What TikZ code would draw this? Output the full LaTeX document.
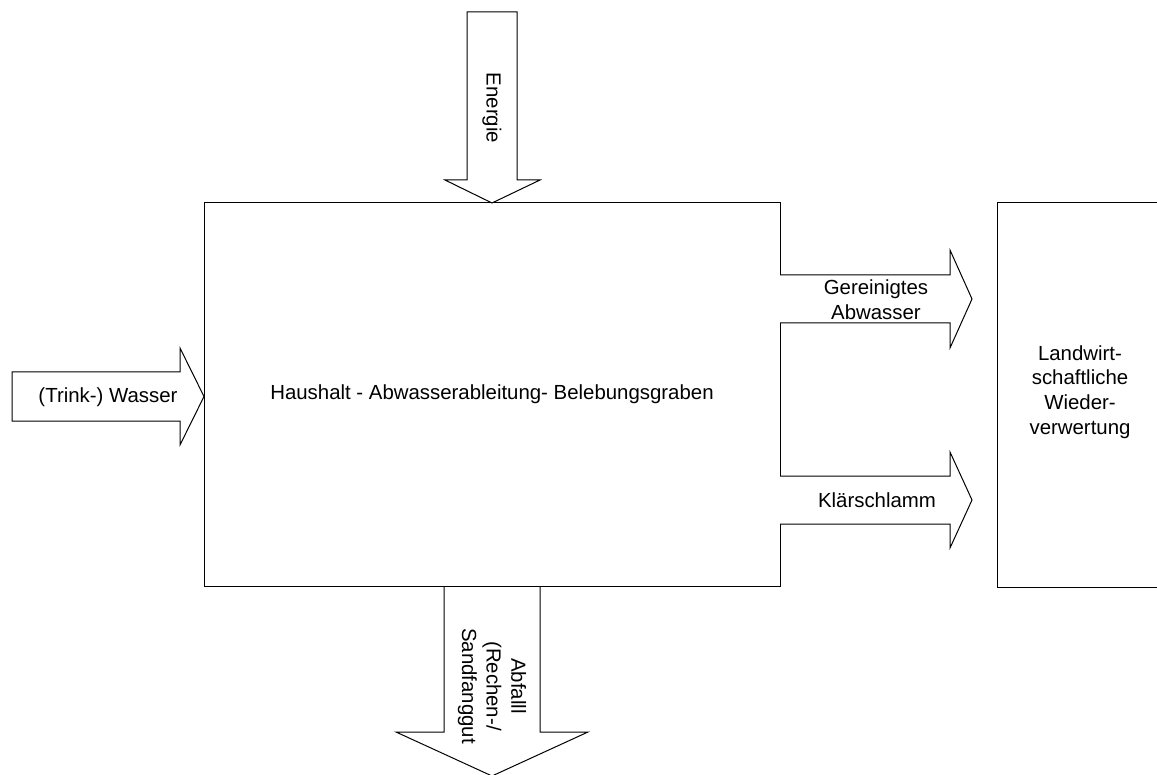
\documentclass[tikz,border=0pt]{standalone}
\usepackage{fontspec}
\setmainfont{Liberation Sans}
\usetikzlibrary{positioning}

\tikzset{
  box/.style={draw, line width=0.5pt},
  flow/.style={draw, fill=white, line width=0.5pt, line join=miter},
  lbl/.style={font=\fontsize{10.2}{12.3}\selectfont, align=center, inner sep=0pt}
}

\begin{document}
\begin{tikzpicture}[x=0.5pt, y=-0.5pt]
        \useasboundingbox (0,0) rectangle (1157,775);
        \clip (0,0) rectangle (1157,775);
        % Draw main box
        \node[box, minimum width=288pt, minimum height=191.5pt, inner sep=0pt] (haus) at (492,394.5) {};
        \node[lbl] (haustext) at (haus.center) {Haushalt - Abwasserableitung- Belebungsgraben};
        % Draw second box (right side cut off)
        \draw[box] (1165,203) -- (997,203) -- (997,587) -- (1165,587);
        \node[lbl] (land) at (1080,392) {Landwirt-\\schaftliche\\Wieder-\\verwertung};
        % Draw input arrows
        \draw[flow] (12,372) -- (180,372) -- (180,348) -- (204,396.5) -- (180,445) -- (180,421) -- (12,421) -- cycle;
        \node[lbl] (wasser) at (108,397) {(Trink-) Wasser};
        \draw[flow] (467,12) -- (517,12) -- (517,180) -- (540,180) -- (492,203) -- (445,180) -- (467,180) -- cycle;
        \node[lbl, rotate=-90] (energie) at (492,108) {Energie};
        % Draw output arrows
        \draw[flow] (780,275) -- (950,275) -- (950,250) -- (972,299) -- (950,348) -- (950,323) -- (780,323);
        \node[lbl] (abwasser) at (876,300) {Gereinigtes\\Abwasser};
        \draw[flow] (780,476) -- (950,476) -- (950,452) -- (972,500) -- (950,548) -- (950,524) -- (780,524);
        \node[lbl] (schlamm) at (877,500) {Klärschlamm};
        \draw[flow] (444,587) -- (444,732) -- (396,732) -- (492,776) -- (588,732) -- (540,732) -- (540,587);
        \node[lbl, rotate=-90] (abfall) at (492,686) {Abfalll\\(Rechen-/\\Sandfanggut};
    \end{tikzpicture}
\end{document}
